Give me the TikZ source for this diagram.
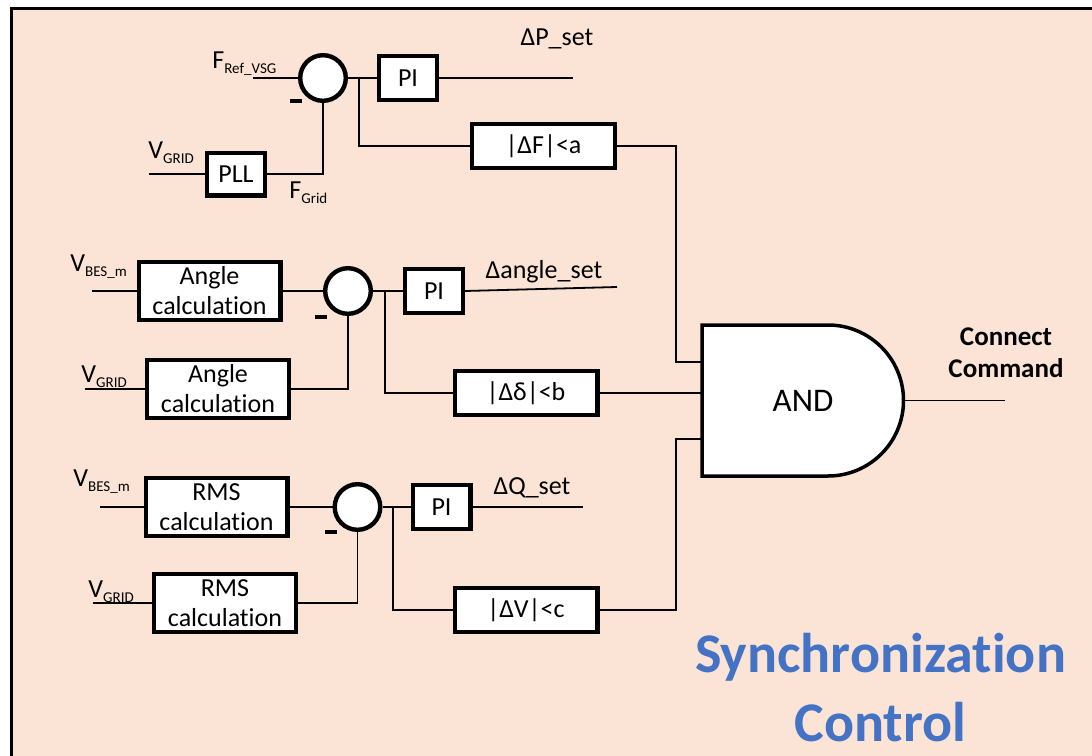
\documentclass[tikz,border=0pt]{standalone}
\usepackage{fontspec}
\setmainfont{Carlito}[Ligatures=NoCommon]
\definecolor{peach}{RGB}{251,228,213}
\definecolor{titleblue}{RGB}{68,114,196}
\newcommand{\signame}[2]{#1\raisebox{-2.5pt}{\fontsize{7.5}{9}\selectfont #2}}

\begin{document}
\begin{tikzpicture}[x=0.5pt, y=-0.5pt,
  blk/.style={draw, line width=2.2pt, fill=white, inner sep=0pt, align=center,
    font=\fontsize{13}{15}\selectfont},
  pibox/.style={blk, minimum width=28.8pt, minimum height=21.8pt},
  chkbox/.style={blk, minimum width=71.3pt, minimum height=21.8pt},
  calcbox/.style={blk, minimum width=70.8pt, minimum height=28.8pt},
  sumc/.style={draw, circle, line width=2.2pt, fill=white, minimum size=22.8pt, inner sep=0pt},
  negmark/.style={fill=black, minimum width=6pt, minimum height=1.8pt, inner sep=0pt},
  wire/.style={line width=0.9pt},
  lbl/.style={inner sep=0pt, font=\fontsize{13}{15}\selectfont}]
% frame
\useasboundingbox (0,0) rectangle (1092,755);
\clip (0,0) rectangle (1092,755);
\fill[white] (0,0) rectangle (1092,755);
\draw[line width=1.5pt, fill=peach] (11,8) rectangle (1110,775);
% frequency
\node[sumc] (sum1) at (323,78) {};
\node[negmark] (neg1) at (296,101) {};
\node[pibox] (pi1) at (408,78) {PI};
\node[blk, minimum width=28.8pt, minimum height=21.3pt] (pll) at (236,174) {PLL};
\node[chkbox] (chkf) at (543.5,146) {|ΔF|<a};
\coordinate (fref) at (253,78);
\coordinate (vgrid1) at (149,174);
\coordinate (br1) at (359,78);
\coordinate (dpend) at (573,78);
\node[lbl, anchor=base west] (lfref) at (212,68) {\signame{F}{Ref\_VSG}};
\node[lbl, anchor=base west] (lvg1) at (148,158) {\signame{V}{GRID}};
\node[lbl, anchor=base west] (lfgrid) at (289,198) {\signame{F}{Grid}};
\node[lbl, anchor=base] (ldp) at (557,46) {ΔP\_set};
\draw[wire] (fref) -- (sum1.west);
\draw[wire] (vgrid1) -- (pll.west);
\draw[wire] (pll.east) -| (sum1.south);
\draw[wire] (sum1.east) -- (pi1.west);
\draw[wire] (pi1.east) -- (dpend);
\draw[wire] (br1) |- (chkf.west);
% angle
\node[calcbox] (ang1) at (209.5,291) {Angle\\calculation};
\node[calcbox] (ang2) at (218,389) {Angle\\calculation};
\node[sumc] (sum2) at (348,291) {};
\node[negmark] (neg2) at (321,317) {};
\node[pibox] (pi2) at (434,291) {PI};
\node[chkbox] (chkd) at (526,393) {|Δδ|<b};
\coordinate (vbes2) at (92,291);
\coordinate (vgrid2) at (85,389);
\coordinate (br2) at (385,291);
\coordinate (daend) at (617,287);
\node[lbl, anchor=base west] (lvb2) at (70,271) {\signame{V}{BES\_m}};
\node[lbl, anchor=base west] (lvg2) at (81,382) {\signame{V}{GRID}};
\node[lbl, anchor=base] (lda) at (544,278) {Δangle\_set};
\draw[wire] (vbes2) -- (ang1.west);
\draw[wire] (vgrid2) -- (ang2.west);
\draw[wire] (ang1.east) -- (sum2.west);
\draw[wire] (ang2.east) -| (sum2.south);
\draw[wire] (sum2.east) -- (pi2.west);
\draw[wire] (pi2.east) -- (daend);
\draw[wire] (br2) |- (chkd.west);
% rms
\node[calcbox] (rms1) at (216.5,507) {RMS\\calculation};
\node[calcbox] (rms2) at (225,603) {RMS\\calculation};
\node[sumc] (sum3) at (357.5,507) {};
\node[negmark] (neg3) at (331,532) {};
\node[pibox] (pi3) at (441.5,507) {PI};
\node[chkbox] (chkv) at (526,610) {|ΔV|<c};
\coordinate (vbes3) at (100,507);
\coordinate (vgrid3) at (93,603);
\coordinate (br3) at (393,507);
\coordinate (dqend) at (583,507);
\node[lbl, anchor=base west] (lvb3) at (73,486) {\signame{V}{BES\_m}};
\node[lbl, anchor=base west] (lvg3) at (88,597) {\signame{V}{GRID}};
\node[lbl, anchor=base] (ldq) at (532,494) {ΔQ\_set};
\draw[wire] (vbes3) -- (rms1.west);
\draw[wire] (vgrid3) -- (rms2.west);
\draw[wire] (rms1.east) -- (sum3.west);
\draw[wire] (rms2.east) -| (sum3.south);
\draw[wire] (sum3.east) -- (pi3.west);
\draw[wire] (pi3.east) -- (dqend);
\draw[wire] (br3) |- (chkv.west);
% AND gate
\coordinate (ina) at (702,362);
\coordinate (inb) at (702,393);
\coordinate (inc) at (702,439);
\coordinate (ja) at (676,362);
\coordinate (jc) at (676,439);
\coordinate (andout) at (903.5,400.5);
\coordinate (cmdend) at (1005,400.5);
\draw[wire] (chkf.east) -| (ja) -- (ina);
\draw[wire] (chkd.east) -- (inb);
\draw[wire] (chkv.east) -| (jc) -- (inc);
\draw[wire] (andout) -- (cmdend);
\draw[line width=1.75pt, fill=white] (702,325) -- (828,325)
  arc[start angle=-90, end angle=90, radius=75.5] -- (702,476) -- cycle;
\node[inner sep=0pt, font=\fontsize{16.5}{18}\selectfont] (andg) at (803,400.5) {AND};
\node[inner sep=0pt, align=center, font=\bfseries\fontsize{13.5}{16}\selectfont] (cmd) at (1006,353) {Connect\\Command};
% title
\node[inner sep=0pt, align=center, text=titleblue, font=\bfseries\fontsize{28}{34.5}\selectfont] (title) at (880.5,688) {Synchronization\\Control};
\end{tikzpicture}
\end{document}
